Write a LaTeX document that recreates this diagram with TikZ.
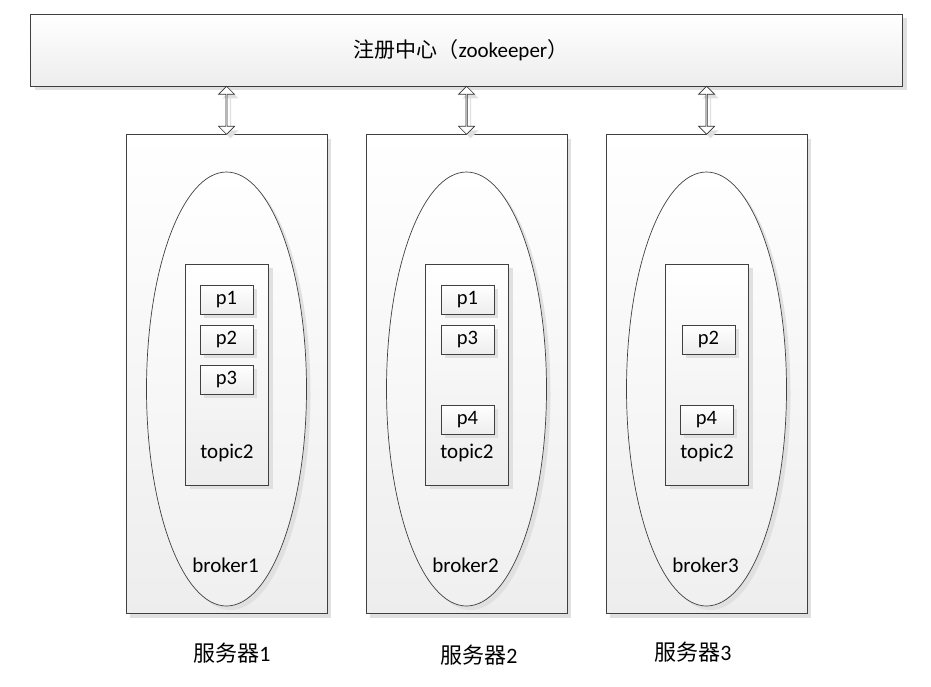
\documentclass[tikz,border=0pt]{standalone}
\usepackage{fontspec}
\setmainfont{Carlito}
\newfontfamily\cjk{Noto Sans CJK SC}
\usetikzlibrary{shapes.geometric,shapes.arrows,shadows,calc}
\tikzset{
  shad/.style={general shadow={shadow xshift=4pt, shadow yshift=-4pt, fill=black!12}},
  box/.style={draw=black!75, line width=0.8pt, top color=white, bottom color=black!7, shad, inner sep=0pt},
  part/.style={box, minimum width=53pt, minimum height=29pt, font=\fontsize{20.5}{22}\selectfont},
  topicbox/.style={box, minimum width=83pt, minimum height=221pt},
  server/.style={box, minimum width=201pt, minimum height=479pt},
  egg/.style={draw=black!75, line width=0.7pt, ellipse, top color=white, bottom color=black!6, shad, minimum width=160pt, minimum height=434pt, inner sep=0pt},
  dbl/.style={double arrow, draw=black!80, line width=0.7pt, fill=white, shad, minimum width=16pt, double arrow head extend=4pt, minimum height=48pt, inner sep=0pt, rotate=90},
  lbl/.style={font=\fontsize{21}{23}\selectfont, inner sep=0pt},
  srv/.style={font=\fontsize{22}{24}\selectfont, inner sep=0pt}
}
\begin{document}
\begin{tikzpicture}[x=1pt,y=-1pt]
\useasboundingbox (0,0) rectangle (931,686);
% top bar
\node[box, minimum width=872pt, minimum height=72pt] (zk) at (466.5,50) {};
\node[font=\fontsize{21}{23}\selectfont, inner sep=0pt] (zkt) at (461,50) {{\cjk 注册中心（}zookeeper{\cjk ）}};
% servers
\foreach \i/\x in {1/226.5,2/466.5,3/706.5}{
  \node[server] (s\i) at (\x,374) {};
  \node[egg] (e\i) at (\x,389) {};
  \node[topicbox] (t\i) at (\x+0.5,374.5) {};
  \node[lbl] (tl\i) at (\x+0.5,453) {topic2};
  \node[lbl] (b\i) at (\x-1,565) {broker\i};
  \path (zk.south -| s\i.north) coordinate (za\i);
  \node[dbl] (a\i) at ($(za\i)!0.5!(s\i.north)$) {};
}
% partitions server 1
\node[part] (p11) at (226.5,299.5) {p1};
\node[part] (p12) at (226.5,339.5) {p2};
\node[part] (p13) at (226.5,379.5) {p3};
% server 2
\node[part] (p21) at (467.5,299.5) {p1};
\node[part] (p23) at (467.5,339.5) {p3};
\node[part] (p24) at (467.5,419.5) {p4};
% server 3
\node[part] (p32) at (708.5,339.5) {p2};
\node[part] (p34) at (706.5,419.5) {p4};
% server labels
\node[srv] (n1) at (232,653) {{\cjk 服务器}1};
\node[srv] (n2) at (479,655) {{\cjk 服务器}2};
\node[srv] (n3) at (693,652) {{\cjk 服务器}3};
\end{tikzpicture}
\end{document}
